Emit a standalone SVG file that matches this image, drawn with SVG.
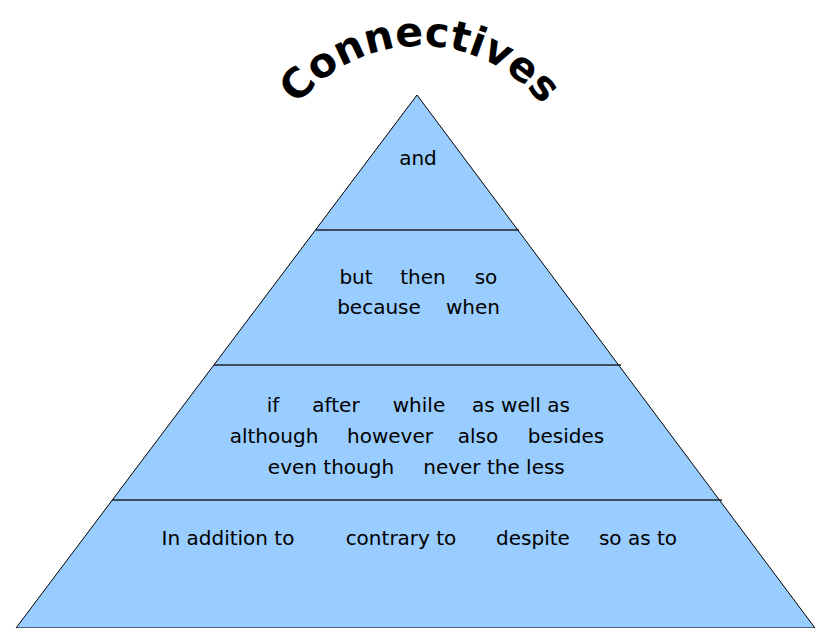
<svg xmlns="http://www.w3.org/2000/svg" width="815" height="628" viewBox="0 0 815 628">
<style>
.lbl{font-family:"DejaVu Sans","Liberation Sans",sans-serif;font-size:20px;fill:#000;text-anchor:middle}
.div{stroke:#222;stroke-width:1.5}
</style>
<defs>
<path id="arc" d="M 264 202 A 156 156 0 0 1 576 202"/>
</defs>
<rect width="815" height="628" fill="#fff"/>
<g id="title">
<text font-family="'DejaVu Sans','Liberation Sans',sans-serif" font-size="41" font-weight="bold" fill="#000" text-anchor="middle"><textPath href="#arc" startOffset="50%">Connectives</textPath></text>
</g>
<g id="pyramid">
<polygon points="417,95 16,628 815,628" fill="#99ccff" stroke="#000" stroke-width="1"/>
</g>
<g id="connectors">
<line class="div" x1="316" y1="230" x2="519" y2="230"/>
<line class="div" x1="214" y1="365" x2="621" y2="365"/>
<line class="div" x1="112" y1="500" x2="722" y2="500"/>
</g>
<g id="tier1">
<text class="lbl" x="418" y="165">and</text>
</g>
<g id="tier2">
<text class="lbl" x="356" y="284">but</text>
<text class="lbl" x="423" y="284">then</text>
<text class="lbl" x="486" y="284">so</text>
<text class="lbl" x="379" y="314">because</text>
<text class="lbl" x="473" y="314">when</text>
</g>
<g id="tier3">
<text class="lbl" x="273" y="412">if</text>
<text class="lbl" x="336" y="412">after</text>
<text class="lbl" x="419" y="412">while</text>
<text class="lbl" x="521" y="412">as well as</text>
<text class="lbl" x="274" y="443">although</text>
<text class="lbl" x="390" y="443">however</text>
<text class="lbl" x="478" y="443">also</text>
<text class="lbl" x="566" y="443">besides</text>
<text class="lbl" x="331" y="474">even though</text>
<text class="lbl" x="494" y="474">never the less</text>
</g>
<g id="tier4">
<text class="lbl" x="228" y="545">In addition to</text>
<text class="lbl" x="401" y="545">contrary to</text>
<text class="lbl" x="533" y="545">despite</text>
<text class="lbl" x="638" y="545">so as to</text>
</g>
</svg>
